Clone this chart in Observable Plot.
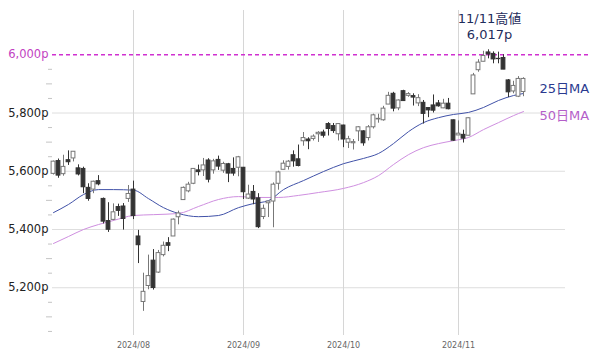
<!DOCTYPE html>
<html><head><meta charset="utf-8">
<script src="https://cdn.jsdelivr.net/npm/d3@7"></script>
<script src="https://cdn.jsdelivr.net/npm/@observablehq/plot@0.6"></script>
<style>html,body{margin:0;padding:0;background:#fff;}#chart{width:600px;height:355px;}</style>
</head><body><div id="chart"></div>
<script>
const dates = [
"2024-07-10","2024-07-11","2024-07-12","2024-07-15","2024-07-16","2024-07-17","2024-07-18","2024-07-19","2024-07-22","2024-07-23","2024-07-24","2024-07-25","2024-07-26","2024-07-29","2024-07-30","2024-07-31",
"2024-08-01","2024-08-02","2024-08-05","2024-08-06","2024-08-07","2024-08-08","2024-08-09","2024-08-12","2024-08-13","2024-08-14","2024-08-15","2024-08-16","2024-08-19","2024-08-20","2024-08-21","2024-08-22","2024-08-23","2024-08-26","2024-08-27","2024-08-28","2024-08-29","2024-08-30",
"2024-09-03","2024-09-04","2024-09-05","2024-09-06","2024-09-09","2024-09-10","2024-09-11","2024-09-12","2024-09-13","2024-09-16","2024-09-17","2024-09-18","2024-09-19","2024-09-20","2024-09-23","2024-09-24","2024-09-25","2024-09-26","2024-09-27","2024-09-30",
"2024-10-01","2024-10-02","2024-10-03","2024-10-04","2024-10-07","2024-10-08","2024-10-09","2024-10-10","2024-10-11","2024-10-14","2024-10-15","2024-10-16","2024-10-17","2024-10-18","2024-10-21","2024-10-22","2024-10-23","2024-10-24","2024-10-25","2024-10-28","2024-10-29","2024-10-30","2024-10-31",
"2024-11-01","2024-11-04","2024-11-05","2024-11-06","2024-11-07","2024-11-08","2024-11-11","2024-11-12","2024-11-13","2024-11-14","2024-11-15","2024-11-18","2024-11-19","2024-11-20"];
const open = [
5591,5635,5590,5638,5644,5610,5608,5543,5537,5566,5505,5429,5433,5477,5479,5505,
5537,5376,5151,5206,5293,5252,5312,5353,5376,5442,5501,5531,5557,5603,5603,5637,5603,5639,5602,5624,5608,5612,
5612,5506,5529,5507,5443,5490,5496,5557,5605,5615,5655,5641,5703,5709,5711,5727,5733,5762,5755,5727,
5757,5698,5696,5737,5737,5714,5751,5778,5775,5829,5866,5816,5875,5859,5858,5833,5835,5817,5826,5833,5816,5832,5775,
5723,5725,5722,5864,5947,5976,6008,6003,5986,5989,5912,5874,5856,5872];
const high = [
5635,5642,5655,5670,5667,5622,5614,5557,5566,5585,5508,5492,5488,5487,5489,5551,
5566,5397,5250,5312,5331,5328,5357,5372,5436,5463,5546,5562,5609,5621,5644,5643,5641,5652,5631,5627,5646,5651,
5613,5552,5551,5523,5484,5497,5560,5600,5636,5637,5670,5690,5733,5715,5725,5736,5741,5767,5764,5763,
5758,5720,5709,5753,5739,5757,5796,5796,5823,5871,5871,5845,5878,5870,5866,5863,5843,5817,5862,5843,5847,5850,5776,
5773,5741,5783,5936,5983,6012,6017,6010,6009,6000,5915,5909,5925,5921];
const low = [
5587,5576,5583,5620,5632,5584,5523,5497,5523,5550,5419,5390,5430,5445,5398,5493,
5434,5283,5119,5193,5192,5249,5306,5324,5376,5416,5501,5526,5554,5584,5582,5560,5590,5603,5593,5561,5583,5581,
5503,5503,5485,5403,5434,5441,5406,5535,5605,5604,5614,5615,5686,5674,5704,5699,5714,5721,5730,5704,
5681,5678,5673,5702,5686,5704,5745,5765,5772,5829,5804,5808,5840,5854,5824,5822,5762,5784,5800,5820,5815,5811,5703,
5723,5697,5722,5864,5940,5976,5986,5969,5969,5949,5853,5866,5853,5856];
const close = [
5633,5585,5615,5631,5667,5589,5545,5505,5564,5555,5427,5399,5459,5464,5436,5522,
5446,5346,5186,5240,5199,5319,5344,5344,5434,5455,5543,5554,5608,5597,5620,5571,5634,5616,5625,5592,5592,5648,
5528,5520,5503,5408,5471,5496,5554,5596,5626,5633,5634,5618,5714,5703,5719,5732,5722,5745,5738,5762,
5709,5710,5700,5751,5696,5751,5792,5780,5815,5859,5815,5843,5841,5865,5853,5851,5797,5809,5808,5823,5832,5813,5705,
5729,5712,5782,5929,5973,5996,6001,5984,5985,5949,5871,5893,5917,5917];

// moving averages
const ma25Dates = ["2024-07-10","2024-07-15","2024-07-18","2024-07-23","2024-07-26","2024-08-01","2024-08-06","2024-08-09","2024-08-14","2024-08-20","2024-08-26","2024-08-30","2024-09-05","2024-09-10","2024-09-13","2024-09-19","2024-09-25","2024-10-01","2024-10-07","2024-10-10","2024-10-15","2024-10-18","2024-10-23","2024-10-28","2024-10-31","2024-11-05","2024-11-08","2024-11-13","2024-11-18","2024-11-20"];
const ma25 = [5458,5486,5520,5537,5537,5535,5506,5475,5455,5444,5448,5475,5489,5499,5537,5568,5599,5626,5644,5661,5695,5736,5767,5784,5795,5802,5819,5843,5860,5867];
const ma50Dates = ["2024-07-10","2024-07-15","2024-07-18","2024-07-23","2024-07-26","2024-08-01","2024-08-07","2024-08-14","2024-08-20","2024-08-26","2024-08-30","2024-09-06","2024-09-12","2024-09-18","2024-09-24","2024-10-01","2024-10-07","2024-10-10","2024-10-15","2024-10-18","2024-10-23","2024-10-28","2024-10-31","2024-11-05","2024-11-08","2024-11-13","2024-11-18","2024-11-20"];
const ma50 = [5352,5376,5400,5417,5431,5448,5451,5455,5479,5503,5513,5510,5510,5517,5527,5541,5561,5585,5623,5657,5681,5695,5705,5716,5743,5767,5791,5805];

const monthTickDates = ["2024-08-01","2024-09-03","2024-10-01","2024-11-01"];
const monthTickLabels = ["2024/08","2024/09","2024/10","2024/11"];
const yTicks = [5200,5400,5600,5800];
const highLine = 6000;
const minorTicks50 = [5050,5150,5250,5350,5450,5550,5650,5750,5850,5950];
const minorTicks100 = [5100,5300,5500,5700,5900];
const peakDate = "2024-11-11";
const peakLabel = ["11/11高値","6,017p"];
const maLabels = ["25日MA","50日MA"];

const idx = d => dates.indexOf(d);
const candles = dates.map((d,i)=>({i, o:open[i], h:high[i], l:low[i], c:close[i]}));
const ups = candles.filter(d=>d.c>=d.o);
const downs = candles.filter(d=>d.c<d.o);
const ma25Pts = ma25Dates.map((d,k)=>({i:idx(d), v:ma25[k]}));
const ma50Pts = ma50Dates.map((d,k)=>({i:idx(d), v:ma50[k]}));
const monthIdx = monthTickDates.map(idx);
const monthLabel = new Map(monthIdx.map((m,k)=>[m, monthTickLabels[k]]));
const fmt = d => d3.format(",")(d) + "p";
const lastI = dates.length - 1;

const chart = Plot.plot({
  width: 600, height: 355,
  marginLeft: 52, marginRight: 35, marginTop: 10, marginBottom: 20,
  style: {fontFamily: "'DejaVu Sans', Verdana, 'Noto Sans CJK JP', sans-serif", background: "#fff", overflow: "visible"},
  x: {type: "linear", domain: [-0.2, 102.4], axis: null, label: null},
  y: {domain: [5036, 6152], axis: null, label: null},
  marks: [
    Plot.ruleY(yTicks, {stroke: "#dedede", strokeWidth: 1}),
    Plot.ruleX(monthIdx, {stroke: "#d6d6d6", strokeWidth: 1}),
    Plot.axisY(minorTicks50, {tickSize: 4, tickFormat: () => "", stroke: "#c4c4c4", label: null}),
    Plot.axisY(minorTicks100, {tickSize: 6, tickFormat: () => "", stroke: "#c4c4c4", label: null}),
    Plot.axisY(yTicks, {tickSize: 0, tickPadding: 4, tickFormat: fmt, fontSize: 11.5, fill: "#222", label: null}),
    Plot.axisY([highLine], {tickSize: 0, tickPadding: 4, tickFormat: fmt, fontSize: 11.5, fill: "#c23fc2", label: null}),
    Plot.axisX(monthIdx, {tickSize: 0, tickPadding: 7, tickFormat: d => monthLabel.get(d), fontSize: 8, fill: "#666", label: null}),
    Plot.ruleY([highLine], {x1: -0.2, x2: 107.4, stroke: "#d030d0", strokeWidth: 1.6, strokeDasharray: "4,3"}),
    Plot.line(ma50Pts, {x: "i", y: "v", stroke: "#cf8fe0", strokeWidth: 1, curve: "monotone-x"}),
    Plot.line(ma25Pts, {x: "i", y: "v", stroke: "#4152a8", strokeWidth: 1, curve: "monotone-x"}),
    Plot.ruleX(ups, {x: "i", y1: "l", y2: "h", stroke: "#777", strokeWidth: 1}),
    Plot.ruleX(downs, {x: "i", y1: "l", y2: "h", stroke: "#333", strokeWidth: 1}),
    Plot.rect(ups, {x1: d => d.i - 0.38, x2: d => d.i + 0.38, y1: "o", y2: "c", fill: "#fff", stroke: "#777", strokeWidth: 1}),
    Plot.rect(downs, {x1: d => d.i - 0.38, x2: d => d.i + 0.38, y1: "o", y2: "c", fill: "#333", stroke: "#333", strokeWidth: 1}),
    Plot.text([maLabels[0]], {x: lastI + 3.2, y: ma25[ma25.length-1] + 17, text: d => d, textAnchor: "start", fontSize: 13, fill: "#2a3a8f"}),
    Plot.text([maLabels[1]], {x: lastI + 3.2, y: ma50[ma50.length-1] - 14, text: d => d, textAnchor: "start", fontSize: 13, fill: "#b45ec9"}),
    Plot.text([peakLabel.join("\n")], {x: idx(peakDate) + 0.2, y: 6100, text: d => d, textAnchor: "middle", fontSize: 13, lineHeight: 1.23, fill: "#1f2d5c"})
  ]
});
document.getElementById("chart").appendChild(chart);
</script>
</body></html>
